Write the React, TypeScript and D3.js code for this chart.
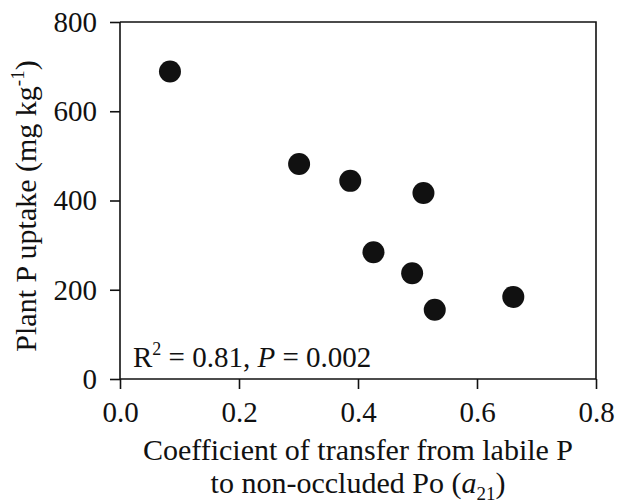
import React, { useEffect, useRef } from 'react';
import * as d3 from 'd3';

// coefficient of transfer a21 vs plant P uptake
const coefValues = [0.084, 0.301, 0.387, 0.426, 0.491, 0.51, 0.529, 0.661];
const uptakeValues = [689, 482, 444, 284, 237, 417, 155, 184];
const xTicks = [0, 0.2, 0.4, 0.6, 0.8];
const yTicks = [0, 200, 400, 600, 800];

const W = 617;
const H = 503;

const App = () => {
  const ref = useRef<SVGSVGElement>(null);

  useEffect(() => {
    const svg = d3.select(ref.current);
    svg.selectAll('*').remove();

    const margins = { top: 22, left: 120, right: 21, bottom: 124 };
    const xScale = d3.scaleLinear().domain([0, 0.8]).range([margins.left, W - margins.right]);
    const yScale = d3.scaleLinear().domain([0, 800]).range([H - margins.bottom, margins.top]);

    const font = "'Liberation Serif', 'Times New Roman', serif";

    // frame top + right
    svg.append('path')
      .attr('d', `M${xScale(0)},${yScale(800)}H${xScale(0.8)}V${yScale(0)}`)
      .attr('fill', 'none')
      .attr('stroke', '#111')
      .attr('stroke-width', 1.6);

    const xAxis = svg.append('g')
      .attr('transform', `translate(0,${yScale(0)})`)
      .call(d3.axisBottom(xScale).tickValues(xTicks).tickFormat(d3.format('.1f')).tickSize(10).tickPadding(12));
    const yAxis = svg.append('g')
      .attr('transform', `translate(${xScale(0)},0)`)
      .call(d3.axisLeft(yScale).tickValues(yTicks).tickSize(10).tickPadding(13));

    [xAxis, yAxis].forEach(ax => {
      ax.select('.domain').attr('stroke', '#111').attr('stroke-width', 1.6);
      ax.selectAll('.tick line').attr('stroke', '#111').attr('stroke-width', 1.6);
      ax.selectAll('.tick text')
        .attr('fill', '#111')
        .style('font-family', font)
        .style('font-size', '29px');
    });
    xAxis.select('.domain').attr('d', `M${xScale(0)},0H${xScale(0.8)}`);
    yAxis.select('.domain').attr('d', `M0,${yScale(0)}V${yScale(800)}`);

    // points
    svg.append('g')
      .selectAll('circle')
      .data(coefValues)
      .enter()
      .append('circle')
      .attr('cx', d => xScale(d))
      .attr('cy', (d, i) => yScale(uptakeValues[i]))
      .attr('r', 11)
      .attr('fill', '#111');

    // stats label
    const stat = svg.append('text')
      .attr('x', 133)
      .attr('y', 367)
      .attr('fill', '#111')
      .style('font-family', font)
      .style('font-size', '29px');
    stat.append('tspan').text('R');
    stat.append('tspan').attr('dy', -12).style('font-size', '18px').text('2');
    stat.append('tspan').attr('dy', 12).text(' = 0.81, ');
    stat.append('tspan').style('font-style', 'italic').text('P');
    stat.append('tspan').text(' = 0.002');

    // y label
    const yl = svg.append('text')
      .attr('transform', 'translate(36,206) rotate(-90)')
      .attr('text-anchor', 'middle')
      .attr('fill', '#111')
      .style('font-family', font)
      .style('font-size', '30px');
    yl.append('tspan').text('Plant P uptake (mg kg');
    yl.append('tspan').attr('dy', -12).style('font-size', '19px').text('-1');
    yl.append('tspan').attr('dy', 12).text(')');

    // x label
    svg.append('text')
      .attr('x', 358)
      .attr('y', 460)
      .attr('text-anchor', 'middle')
      .attr('fill', '#111')
      .style('font-family', font)
      .style('font-size', '30px')
      .text('Coefficient of transfer from labile P');
    const xl2 = svg.append('text')
      .attr('x', 358)
      .attr('y', 493)
      .attr('text-anchor', 'middle')
      .attr('fill', '#111')
      .style('font-family', font)
      .style('font-size', '30px');
    xl2.append('tspan').text('to non-occluded Po (');
    xl2.append('tspan').style('font-style', 'italic').text('a');
    xl2.append('tspan').attr('dy', 7).style('font-size', '19px').text('21');
    xl2.append('tspan').attr('dy', -7).text(')');
  }, []);

  return (
    <svg ref={ref} width={W} height={H}
      style={{ position: 'absolute', left: 0, top: 0, background: '#fff' }} />
  );
};

export default App;
